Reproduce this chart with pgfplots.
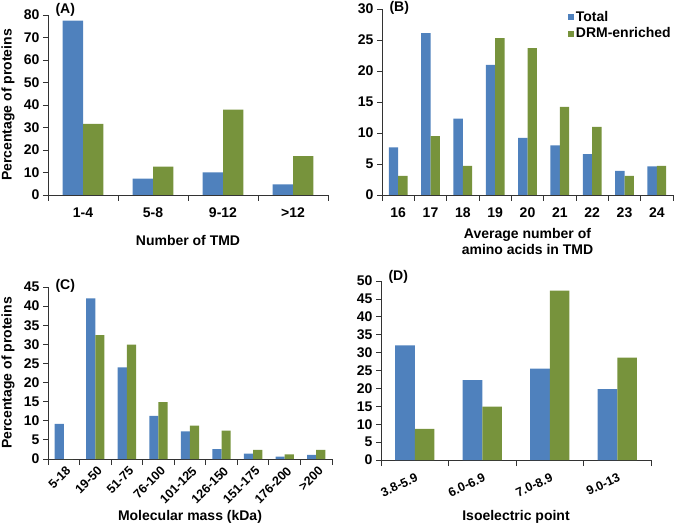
\documentclass[border=0pt]{standalone}
\usepackage{fontspec}
\setmainfont{Liberation Sans}
\usepackage{pgfplots}
\pgfplotsset{compat=1.18}
\definecolor{tblue}{HTML}{4F81BD}
\definecolor{dgreen}{HTML}{77933C}
\newcommand{\ff}{\fontsize{14bp}{16bp}\selectfont\bfseries}
\newcommand{\fr}{\fontsize{12.5bp}{14bp}\selectfont\bfseries}
\pgfplotsset{
  panel/.style={
    scale only axis,
    anchor=south west,
    ybar=0pt,
    bar width=0.29,
    ymin=0,
    axis x line*=bottom,
    axis y line*=left,
    axis line style={black!80,line width=0.8pt},
    every tick/.style={black!80,line width=0.8pt},
    major x tick style={draw=none},
    minor x tick style={black!80,line width=0.8pt},
    xtick=data,
    tick align=outside,
    major tick length=5bp,
    minor tick length=6bp,
    ticklabel style={font=\ff},
    /pgf/number format/assume math mode=true,
    label style={font=\ff},
    xticklabel style={yshift=-4bp},
    xlabel style={at={(rel axis cs:0.5,0)},anchor=center},
    clip=false,
  },
  every axis plot/.append style={draw=none},
}
\begin{document}
\begin{tikzpicture}
\useasboundingbox (0,0) rectangle (675bp,527bp);
% Panel A
\begin{axis}[panel, at={(48bp,332bp)}, width=280bp, height=180bp,
  xmin=-0.5, xmax=3.5, ymax=80, ytick={0,10,...,80},
  xticklabels={1-4,5-8,9-12,>12},
  minor xtick={-0.5,0.5,...,3.5},
  ylabel={Percentage of proteins}, xlabel={Number of TMD},
  ylabel style={at={(axis description cs:0,0.5)},yshift=30bp},
  xlabel style={yshift=-45bp}]
\addplot[fill=tblue] coordinates {(0,77.5) (1,7.3) (2,10.1) (3,4.7)};
\addplot[fill=dgreen] coordinates {(0,31.6) (1,12.6) (2,38.0) (3,17.3)};
\node[font=\ff,anchor=west] at (rel axis cs:0,1) [xshift=4bp,yshift=5bp] {(A)};
\end{axis}
% Panel B
\begin{axis}[panel, at={(382bp,332bp)}, width=291bp, height=186bp,
  xmin=-0.5, xmax=8.5, ymax=30, ytick={0,5,...,30},
  xticklabels={16,17,18,19,20,21,22,23,24},
  minor xtick={-0.5,0.5,...,8.5},
  xlabel={Average number of\\amino acids in TMD},
  xlabel style={align=center,yshift=-46bp},
  legend style={draw=none,fill=none,font=\ff,at={(1,1.0)},anchor=north east,
    row sep=1bp,inner sep=0pt,nodes={inner xsep=2bp}},
  legend cell align=left,
  legend image code/.code={\fill[#1] (2bp,-3bp) rectangle (8bp,3bp);}]
\addplot[fill=tblue] coordinates {(0,7.7) (1,26.1) (2,12.3) (3,21.0) (4,9.2) (5,8.0) (6,6.6) (7,3.9) (8,4.6)};
\addplot[fill=dgreen] coordinates {(0,3.1) (1,9.5) (2,4.7) (3,25.3) (4,23.7) (5,14.2) (6,11.0) (7,3.1) (8,4.7)};
\legend{Total,DRM-enriched}
\node[font=\ff,anchor=west] at (rel axis cs:0,1) [xshift=4bp,yshift=1bp] {(B)};
\end{axis}
% Panel C
\begin{axis}[panel, at={(48bp,68bp)}, width=284bp, height=172bp,
  xmin=-0.5, xmax=8.5, ymax=45, ytick={0,5,...,45},
  xticklabels={5-18,19-50,51-75,76-100,101-125,126-150,151-175,176-200,>200},
  minor xtick={-0.5,0.5,...,8.5},
  xticklabel style={rotate=45,anchor=north east,font=\fr,yshift=4bp,xshift=6bp},
  ylabel={Percentage of proteins}, xlabel={Molecular mass (kDa)},
  ylabel style={at={(axis description cs:0,0.5)},yshift=30bp},
  xlabel style={yshift=-58bp}]
\addplot[fill=tblue] coordinates {(0,9.2) (1,42.0) (2,24.0) (3,11.3) (4,7.2) (5,2.6) (6,1.4) (7,0.6) (8,1.1)};
\addplot[fill=dgreen] coordinates {(0,0) (1,32.4) (2,29.9) (3,14.9) (4,8.7) (5,7.4) (6,2.4) (7,1.2) (8,2.4)};
\node[font=\ff,anchor=west] at (rel axis cs:0,1) [xshift=4bp,yshift=1bp] {(C)};
\end{axis}
% Panel D
\begin{axis}[panel, at={(381bp,67bp)}, width=270bp, height=179bp,
  xmin=-0.5, xmax=3.5, ymax=50, ytick={0,5,...,50},
  xticklabels={3.8-5.9,6.0-6.9,7.0-8.9,9.0-13},
  minor xtick={-0.5,0.5,...,3.5},
  xticklabel style={rotate=25,anchor=north east,font=\fr,yshift=0bp,xshift=2bp},
  xlabel={Isoelectric point},
  xlabel style={yshift=-57bp}]
\addplot[fill=tblue] coordinates {(0,32.0) (1,22.3) (2,25.5) (3,19.8)};
\addplot[fill=dgreen] coordinates {(0,8.7) (1,14.9) (2,47.3) (3,28.6)};
\node[font=\ff,anchor=west] at (rel axis cs:0,1) [xshift=4bp,yshift=4bp] {(D)};
\end{axis}
\end{tikzpicture}
\end{document}
